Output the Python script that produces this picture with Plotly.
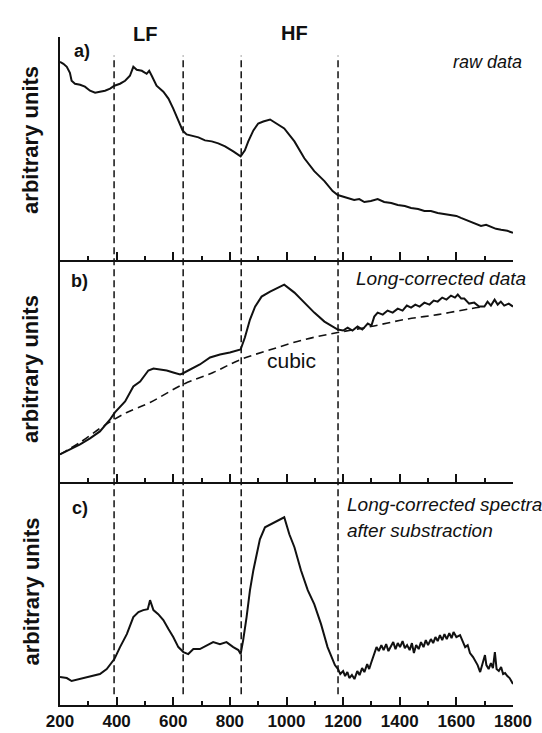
import plotly.graph_objects as go

# ---------------- data (arbitrary units) ----------------
raw_x = [200, 212, 224, 235, 241, 253, 271, 288, 306, 324, 341, 359, 377, 392, 412, 430, 447, 459, 471, 489,
         506, 515, 524, 541, 565, 583, 600, 618, 633, 647, 665, 689, 712, 736, 759, 783, 812, 830, 838, 853,
         865, 883, 900, 918, 942, 992, 1028, 1063, 1098, 1134, 1163, 1181, 1204, 1222, 1239, 1257, 1275, 1298,
         1322, 1345, 1370, 1393, 1418, 1440, 1465, 1487, 1510, 1534, 1558, 1581, 1600, 1616, 1635, 1652, 1670,
         1687, 1705, 1722, 1740, 1758, 1780, 1800]
raw_y = [199, 197, 194, 188, 180, 177, 176, 174, 170, 168, 169, 170, 172, 175, 177, 180, 185, 194, 191, 190,
         187, 190, 185, 175, 169, 162, 152, 140, 130, 126, 125, 123, 120, 119, 117, 114, 109, 105, 104, 110,
         119, 130, 137, 139, 141, 132, 119, 102, 89, 79, 69, 65, 63, 61, 60, 61, 58, 59,
         61, 58, 57, 55, 54, 52, 51, 49, 49, 47, 46, 45, 44, 42, 40, 38, 36,
         34, 35, 33, 31, 30, 29, 27]

corr_x = [200, 235, 271, 306, 341, 377, 394, 430, 459, 483, 512, 530, 553, 577, 600, 624, 633, 659, 694, 730,
          765, 800, 830, 838, 853, 871, 889, 912, 942, 992, 1028, 1063, 1098, 1134, 1169, 1181, 1200, 1216,
          1233, 1251, 1268, 1287, 1300, 1310, 1322, 1340, 1357, 1375, 1393, 1410, 1425, 1440, 1455, 1470,
          1487, 1505, 1520, 1534, 1550, 1565, 1581, 1595, 1605, 1617, 1628, 1645, 1663, 1680, 1699, 1710,
          1722, 1735, 1746, 1757, 1769, 1785, 1800]
corr_y = [28, 33, 38, 44, 51, 63, 70, 81, 96, 101, 112, 114, 113, 112, 110, 108, 109, 113, 118, 125,
          128, 130, 132, 133, 145, 163, 176, 186, 191, 198, 190, 180, 170, 161, 155, 153, 152, 155,
          152, 156, 153, 159, 157, 166, 170, 168, 172, 170, 174, 172, 177, 175, 178, 176,
          180, 178, 182, 181, 185, 183, 187, 185, 188, 184, 184, 179, 180, 176, 176, 181,
          177, 183, 178, 181, 177, 179, 176]

cubic_x = [200, 271, 341, 391, 436, 518, 634, 741, 838, 945, 1063, 1181, 1298, 1416, 1534, 1652, 1700]
cubic_y = [28, 40, 54, 63, 70, 80, 98, 110, 123, 133, 143, 150, 156, 163, 168, 174, 176]

sub_x = [200, 224, 241, 271, 306, 341, 365, 392, 412, 436, 459, 477, 494, 510, 518, 530, 547, 565, 583, 600,
         618, 636, 653, 671, 694, 718, 741, 765, 788, 812, 830, 838, 847, 859, 871, 883, 894, 906, 924, 945,
         969, 992, 1010, 1028, 1051, 1075, 1098, 1122, 1145, 1163, 1171, 1182, 1190, 1200, 1207, 1215, 1222,
         1231, 1240, 1250, 1258, 1267, 1275, 1285, 1292, 1300, 1310, 1318, 1326, 1335, 1343, 1352, 1360, 1368,
         1377, 1385, 1393, 1401, 1410, 1418, 1426, 1435, 1443, 1450, 1458, 1467, 1475, 1484, 1492, 1500, 1510,
         1518, 1526, 1534, 1542, 1550, 1558, 1566, 1575, 1583, 1590, 1600, 1613, 1622, 1631, 1640, 1648, 1659,
         1666, 1675, 1684, 1692, 1701, 1706, 1714, 1722, 1729, 1736, 1742, 1750, 1758, 1765, 1772, 1780, 1788,
         1794, 1800]
sub_y = [28, 27, 24, 26, 28, 31, 36, 46, 58, 71, 88, 93, 95, 96, 105, 95, 91, 85, 76, 68,
         58, 53, 51, 56, 56, 60, 63, 61, 63, 58, 55, 51, 65, 88, 115, 135, 151, 166, 178, 181,
         185, 188, 171, 158, 135, 115, 101, 81, 58, 45, 40, 36, 31, 34, 29, 33, 27,
         30, 26, 34, 30, 37, 33, 41, 36, 43, 52, 58, 54, 60, 55, 61, 54, 59,
         63, 56, 62, 58, 64, 57, 60, 55, 62, 52, 60, 56, 63, 58, 65, 60, 66,
         62, 68, 64, 70, 65, 71, 66, 72, 67, 73, 68, 70, 64, 58, 60, 52, 48,
         44, 40, 33, 42, 50, 40, 36, 42, 37, 53, 36, 34, 38, 31, 32, 29, 27,
         24, 21]

region_bounds = [391, 635, 840, 1182]
x_ticks = [200, 400, 600, 800, 1000, 1200, 1400, 1600, 1800]

# ---------------- styling ----------------
FONT = "Liberation Sans, Arial, sans-serif"
INK = "#111111"

fig = go.Figure()
fig.add_trace(go.Scatter(x=raw_x, y=raw_y, mode="lines", line=dict(color=INK, width=2),
                         xaxis="x", yaxis="y", showlegend=False))
fig.add_trace(go.Scatter(x=corr_x, y=corr_y, mode="lines", line=dict(color=INK, width=2),
                         xaxis="x2", yaxis="y2", showlegend=False))
fig.add_trace(go.Scatter(x=cubic_x, y=cubic_y, mode="lines",
                         line=dict(color=INK, width=1.6, dash="8px,5px", shape="spline"),
                         xaxis="x2", yaxis="y2", showlegend=False))
fig.add_trace(go.Scatter(x=sub_x, y=sub_y, mode="lines", line=dict(color=INK, width=2),
                         xaxis="x3", yaxis="y3", showlegend=False))

xcommon = dict(range=[200, 1800], showline=True, linecolor=INK, linewidth=2, mirror=False,
               ticks="inside", ticklen=8, tickwidth=1.5, tickcolor=INK,
               tickvals=x_ticks, showgrid=False, zeroline=False, automargin=False,
               minor=dict(dtick=100, tick0=200, ticks="inside", ticklen=4, tickwidth=1.5,
                          tickcolor=INK, showgrid=False))
ycommon = dict(showline=True, linecolor=INK, linewidth=2, ticks="", showticklabels=False,
               showgrid=False, zeroline=False, automargin=False)

fig.update_layout(
    width=542, height=733,
    margin=dict(l=60, r=29, t=37, b=28),
    paper_bgcolor="white", plot_bgcolor="white",
    xaxis=dict(xcommon, anchor="y", showticklabels=False),
    xaxis2=dict(xcommon, anchor="y2", showticklabels=False, matches="x"),
    xaxis3=dict(xcommon, anchor="y3", showticklabels=True, matches="x",
                tickfont=dict(family=FONT, size=17, color=INK, weight="bold")),
    yaxis=dict(ycommon, domain=[2 / 3, 1], range=[0, 224], anchor="x"),
    yaxis2=dict(ycommon, domain=[1 / 3, 2 / 3], range=[0, 223], anchor="x2"),
    yaxis3=dict(ycommon, domain=[0, 1 / 3], range=[0, 223], anchor="x3"),
)

for xb in region_bounds:
    fig.add_shape(type="line", xref="x", yref="paper", x0=xb, x1=xb, y0=0.016, y1=0.972,
                  line=dict(color=INK, width=1.5, dash="7px,4px"))

def ann(text, x, y, xref="paper", size=18, bold=False, italic=False, xanchor="center",
        yanchor="middle", angle=0):
    fig.add_annotation(text=text, x=x, y=y, xref=xref, yref="paper", showarrow=False,
                       xanchor=xanchor, yanchor=yanchor, textangle=angle,
                       font=dict(family=FONT, size=size, color=INK,
                                 weight="bold" if bold else "normal",
                                 style="italic" if italic else "normal"))

ann("LF", 500, 1.004, xref="x", size=20, bold=True)
ann("HF", 1030, 1.006, xref="x", size=20, bold=True)
ann("a)", 0.048, 0.979, size=18, bold=True)
ann("b)", 0.044, 0.634, size=18, bold=True)
ann("c)", 0.044, 0.2955, size=18, bold=True)
ann("raw data", 1.024, 0.963, size=18, italic=True, xanchor="right")
ann("Long-corrected data", 1.033, 0.639, size=19, italic=True, xanchor="right")
ann("Long-corrected spectra", 0.629, 0.300, size=19, italic=True, xanchor="left")
ann("after substraction", 0.629, 0.261, size=19, italic=True, xanchor="left")
ann("cubic", 1016, 0.516, xref="x", size=21)
for yc in [0.846, 0.503, 0.170]:
    ann("arbitrary units", -0.064, yc, size=22, bold=True, angle=-90)

fig.write_html("out.html")
